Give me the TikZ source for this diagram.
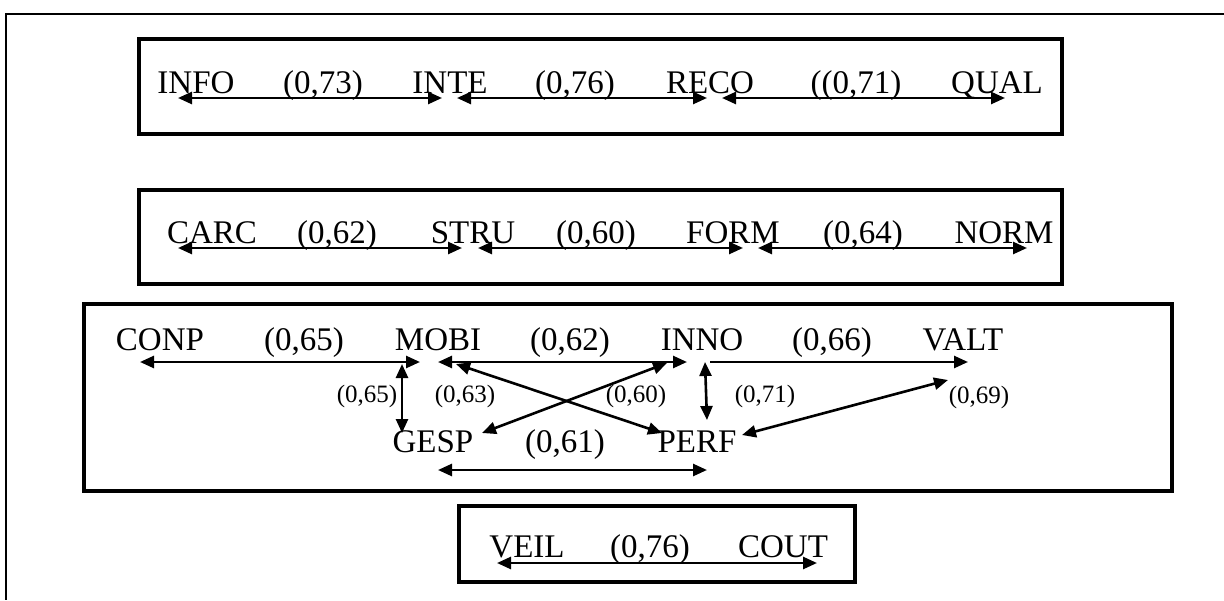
\documentclass[tikz,border=0pt]{standalone}
\usepackage{fontspec}
\setmainfont{Liberation Serif}
\usetikzlibrary{arrows.meta}
\begin{document}
\begin{tikzpicture}[x=1pt,y=-1pt,
  lbl/.style={anchor=base,inner sep=0pt,font=\fontsize{33}{40}\selectfont},
  coef/.style={anchor=base,inner sep=0pt,font=\fontsize{25}{30}\selectfont},
  frame/.style={line width=4pt},
  outer/.style={line width=2pt},
  link/.style={line width=2.6pt,{Triangle[length=14pt,width=12pt]}-{Triangle[length=14pt,width=12pt]}},
  onelink/.style={line width=2.6pt,-{Triangle[length=14pt,width=12pt]}},
]
\useasboundingbox (0,0) rectangle (1224,600);

% page frame
\draw[outer] (1224,14) -- (6,14) -- (6,600);

% group frames
\draw[frame] (139,39) rectangle (1062,134);
\draw[frame] (139,190) rectangle (1062,284);
\draw[frame] (84,304) rectangle (1172,491);
\draw[frame] (459,506) rectangle (855,582);

% ---- group 1
\node[lbl] (info) at (196,93) {INFO};
\node[lbl] (v73)  at (323,93) {(0,73)};
\node[lbl] (inte) at (450,93) {INTE};
\node[lbl] (v76a) at (575,93) {(0,76)};
\node[lbl] (reco) at (710,93) {RECO};
\node[lbl] (v71a) at (856,93) {((0,71)};
\node[lbl] (qual) at (997,93) {QUAL};
\coordinate (infoR) at (178,98);
\coordinate (inteL) at (442,98);
\coordinate (inteR) at (457,98);
\coordinate (recoL) at (707,98);
\coordinate (recoR) at (722,98);
\coordinate (qualL) at (1005,98);
\draw[link] (infoR) -- (inteL);
\draw[link] (inteR) -- (recoL);
\draw[link] (recoR) -- (qualL);

% ---- group 2
\node[lbl] (carc) at (212,243) {CARC};
\node[lbl] (v62a) at (337,243) {(0,62)};
\node[lbl] (stru) at (473,243) {STRU};
\node[lbl] (v60a) at (596,243) {(0,60)};
\node[lbl] (form) at (733,243) {FORM};
\node[lbl] (v64)  at (863,243) {(0,64)};
\node[lbl] (norm) at (1004,243) {NORM};
\coordinate (carcR) at (178,248);
\coordinate (struL) at (462,248);
\coordinate (struR) at (478,248);
\coordinate (formL) at (743,248);
\coordinate (formR) at (758,248);
\coordinate (normL) at (1027,248);
\draw[link] (carcR) -- (struL);
\draw[link] (struR) -- (formL);
\draw[link] (formR) -- (normL);

% ---- group 3
\node[lbl] (conp) at (160,350) {CONP};
\node[lbl] (v65a) at (304,350) {(0,65)};
\node[lbl] (mobi) at (438,350) {MOBI};
\node[lbl] (v62b) at (570,350) {(0,62)};
\node[lbl] (inno) at (702,350) {INNO};
\node[lbl] (v66)  at (832,350) {(0,66)};
\node[lbl] (valt) at (963,350) {VALT};
\node[lbl] (gesp) at (433,452) {GESP};
\node[lbl] (v61)  at (565,452) {(0,61)};
\node[lbl] (perf) at (697,452) {PERF};
\node[coef] (v65b) at (367,402) {(0,65)};
\node[coef] (v63)  at (465,402) {(0,63)};
\node[coef] (v60b) at (636,402) {(0,60)};
\node[coef] (v71b) at (765,402) {(0,71)};
\node[coef] (v69)  at (979,403) {(0,69)};

\coordinate (conpE) at (140,362);
\coordinate (mobiW) at (420,362);
\coordinate (mobiE) at (438,362);
\coordinate (innoW) at (687,362);
\coordinate (innoE) at (710,362);
\coordinate (valtW) at (968,362);
\coordinate (mobiS) at (402,364);
\coordinate (gespN) at (402,433);
\coordinate (mobiSE) at (456,364);
\coordinate (perfNW) at (662,433);
\coordinate (gespNE) at (482,433);
\coordinate (innoSW) at (667,363);
\coordinate (innoS) at (705,362);
\coordinate (perfN) at (707,420);
\coordinate (perfE) at (742,435);
\coordinate (valtS) at (948,380);
\coordinate (gespS) at (438,470);
\coordinate (perfS) at (707,470);

\draw[link] (conpE) -- (mobiW);
\draw[link] (mobiE) -- (innoW);
\draw[onelink] (innoE) -- (valtW);
\draw[link] (mobiS) -- (gespN);
\draw[link] (mobiSE) -- (perfNW);
\draw[link] (gespNE) -- (innoSW);
\draw[link] (innoS) -- (perfN);
\draw[link] (perfE) -- (valtS);
\draw[link] (gespS) -- (perfS);

% ---- group 4
\node[lbl] (veil) at (527,557) {VEIL};
\node[lbl] (v76b) at (650,557) {(0,76)};
\node[lbl] (cout) at (783,557) {COUT};
\coordinate (veilE) at (497,563);
\coordinate (coutW) at (817,563);
\draw[link] (veilE) -- (coutW);
\end{tikzpicture}
\end{document}
